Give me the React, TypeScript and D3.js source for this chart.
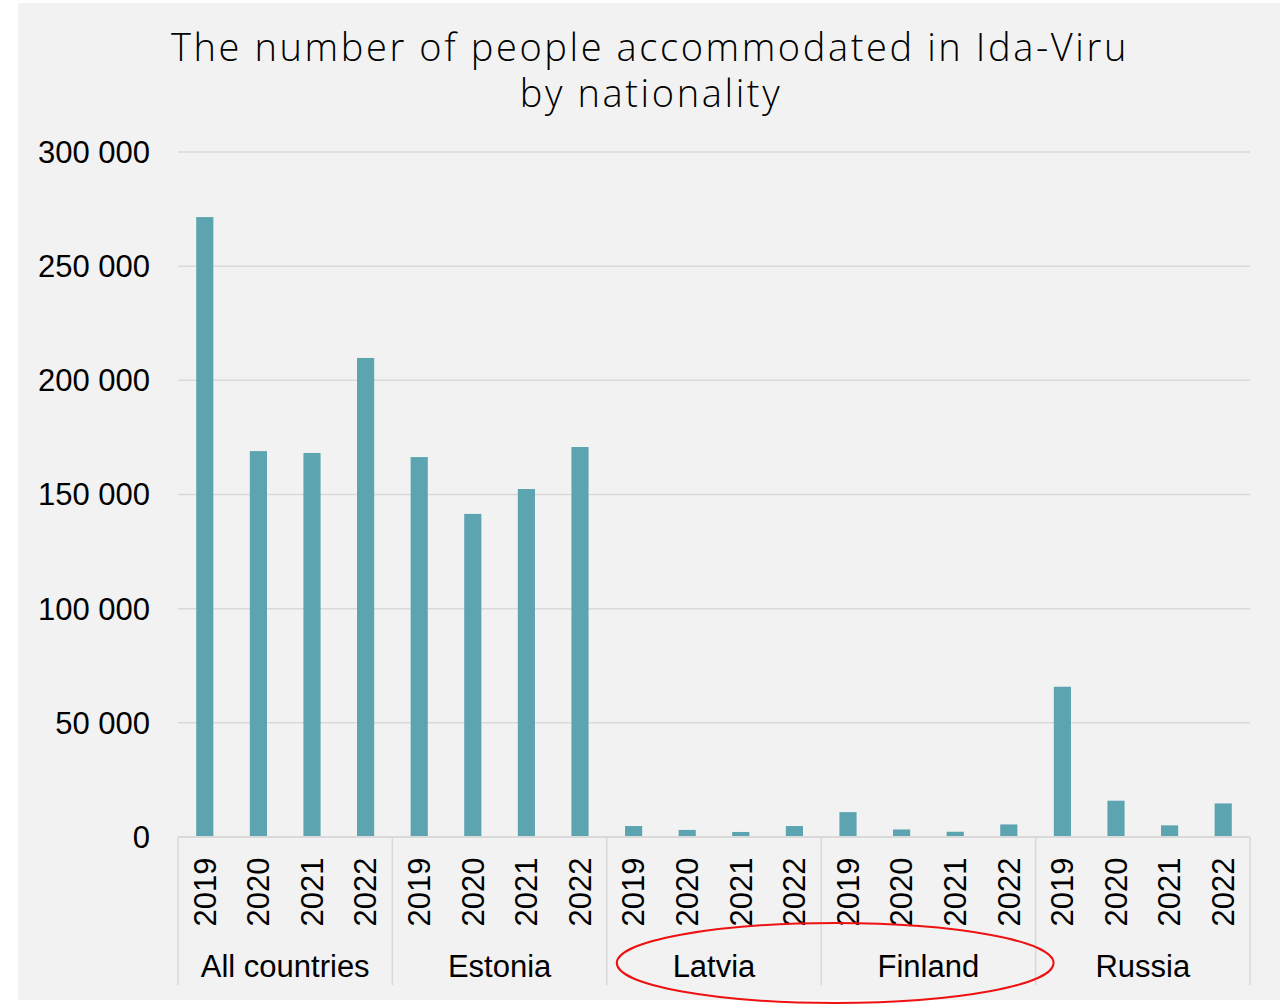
import { useEffect, useRef } from 'react'
import * as d3 from 'd3'

const GROUPS = ['All countries', 'Estonia', 'Latvia', 'Finland', 'Russia']
const YEARS = ['2019', '2020', '2021', '2022']
const VALUES = [
  [271500, 169000, 168200, 209800],
  [166400, 141500, 152400, 170800],
  [4800, 3100, 2200, 4800],
  [10900, 3300, 2300, 5500],
  [65800, 15900, 5100, 14700],
]
const Y_TICKS = [0, 50000, 100000, 150000, 200000, 250000, 300000]
const HIGHLIGHT = ['Latvia', 'Finland']

export default function App() {
  const svgRef = useRef<SVGSVGElement>(null)

  useEffect(() => {
    const svgEl = svgRef.current
    if (!svgEl) return
    const W = 1288
    const H = 1004
    const svg = d3.select(svgEl)
    svg.selectAll('*').remove()

    const left = 178, right = 1250, top = 152, bottom = 837
    const font = '"Liberation Sans", Arial, sans-serif'

    svg.append('rect').attr('x', 18).attr('y', 3).attr('width', 1262).attr('height', 997).attr('fill', '#f2f2f2')

    // title
    const title = svg.append('text').attr('text-anchor', 'middle').attr('fill', '#000')
      .attr('font-family', '"Open Sans", sans-serif').attr('font-weight', 300).attr('font-size', 38)
      .attr('letter-spacing', 2.6)
    title.append('tspan').attr('x', 650).attr('y', 61).text('The number of people accommodated in Ida-Viru')
    title.append('tspan').attr('x', 651).attr('y', 107).text('by nationality')

    const keys = GROUPS.flatMap((g) => YEARS.map((yr) => `${g}|${yr}`))
    const x = d3.scaleBand<string>().domain(keys).range([left, right]).paddingInner(0.68).paddingOuter(0.34)
    const step = x.step()
    const y = d3.scaleLinear().domain([0, 300000]).range([bottom, top])

    // gridlines
    svg.append('g').selectAll('line').data(Y_TICKS.filter((t) => t > 0)).join('line')
      .attr('x1', left).attr('x2', right).attr('y1', (d) => y(d)).attr('y2', (d) => y(d))
      .attr('stroke', '#d9d9d9').attr('stroke-width', 1.5)

    // y labels
    const fmt = (v: number) => d3.format(',')(v).replace(/,/g, ' ')
    svg.append('g').selectAll('text').data(Y_TICKS).join('text')
      .attr('x', 150).attr('y', (d) => y(d)).attr('dy', '0.35em').attr('text-anchor', 'end')
      .attr('font-family', font).attr('font-size', 31).attr('fill', '#000').text((d) => fmt(d))

    // bars
    const flat = GROUPS.flatMap((g, gi) => YEARS.map((yr, yi) => ({ key: `${g}|${yr}`, year: yr, v: VALUES[gi][yi] })))
    svg.append('g').selectAll('rect').data(flat).join('rect')
      .attr('x', (d) => x(d.key)!).attr('width', x.bandwidth())
      .attr('y', (d) => y(d.v)).attr('height', (d) => bottom - y(d.v))
      .attr('fill', '#5ba4b0')

    // axis line
    svg.append('line').attr('x1', left).attr('x2', right).attr('y1', bottom).attr('y2', bottom)
      .attr('stroke', '#d9d9d9').attr('stroke-width', 2)

    // group separators
    const sepX = d3.range(GROUPS.length + 1).map((i) => left + i * step * YEARS.length)
    svg.append('g').selectAll('line').data(sepX).join('line')
      .attr('x1', (d) => d).attr('x2', (d) => d).attr('y1', bottom).attr('y2', 985)
      .attr('stroke', '#d9d9d9').attr('stroke-width', 1.5)

    // year labels
    svg.append('g').selectAll('text').data(flat).join('text')
      .attr('transform', (d) => `translate(${x(d.key)! + x.bandwidth() / 2},892) rotate(-90)`)
      .attr('dy', '0.35em').attr('text-anchor', 'middle')
      .attr('font-family', font).attr('font-size', 31).attr('fill', '#000').text((d) => d.year)

    // group labels
    svg.append('g').selectAll('text').data(GROUPS).join('text')
      .attr('x', (_, i) => left + (i + 0.5) * step * YEARS.length).attr('y', 977)
      .attr('text-anchor', 'middle').attr('font-family', font).attr('font-size', 31).attr('fill', '#000')
      .text((d) => d)

    // red highlight ellipse around Latvia & Finland
    const hi = HIGHLIGHT.map((g) => GROUPS.indexOf(g))
    const ex0 = left + d3.min(hi)! * step * YEARS.length
    const ex1 = left + (d3.max(hi)! + 1) * step * YEARS.length
    svg.append('ellipse').attr('cx', (ex0 + ex1) / 2 + 14).attr('cy', 963)
      .attr('rx', (ex1 - ex0) / 2 + 4).attr('ry', 40)
      .attr('fill', 'none').attr('stroke', '#ee1111').attr('stroke-width', 2)

    svg.attr('viewBox', `0 0 ${W} ${H}`)
  }, [])

  return (
    <svg ref={svgRef} width={1288} height={1004}
      style={{ position: 'absolute', left: 0, top: 0, display: 'block' }} />
  )
}
